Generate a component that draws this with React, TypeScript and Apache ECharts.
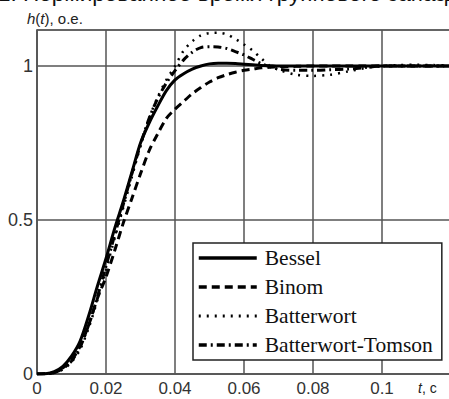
import React, { useEffect, useRef } from "react";
import * as echarts from "echarts";

const tValues = [
  0, 0.0025, 0.005, 0.0075, 0.01, 0.0125, 0.015, 0.0175, 0.02, 0.0225, 0.025, 0.0275,
  0.03, 0.0325, 0.035, 0.0375, 0.04, 0.0425, 0.045, 0.0475, 0.05, 0.0525, 0.055, 0.0575,
  0.06, 0.0625, 0.065, 0.0675, 0.07, 0.075, 0.08, 0.085, 0.09, 0.095, 0.1, 0.105, 0.11,
  0.115, 0.12,
];

const bessel = [
  0, 0.001, 0.008, 0.025, 0.058, 0.107, 0.19, 0.285, 0.375, 0.472, 0.56, 0.655,
  0.75, 0.815, 0.87, 0.92, 0.955, 0.975, 0.99, 1.0, 1.007, 1.009, 1.009, 1.008,
  1.006, 1.004, 1.002, 1.001, 1.0, 1.0, 1.0, 1.0, 1.0, 1.0, 1.0, 1.0, 1.0,
  1.0, 1.0,
];

const binom = [
  0, 0.0005, 0.005, 0.02, 0.045, 0.09, 0.16, 0.245, 0.315, 0.4, 0.49, 0.57,
  0.65, 0.725, 0.78, 0.83, 0.86, 0.885, 0.91, 0.93, 0.948, 0.962, 0.972, 0.98,
  0.986, 0.99, 0.994, 0.996, 0.998, 0.999, 1.0, 1.0, 1.0, 1.0, 1.0, 1.0, 1.0,
  1.0, 1.0,
];

const batterwort = [
  0, 0.0005, 0.004, 0.015, 0.038, 0.08, 0.15, 0.24, 0.34, 0.44, 0.54, 0.64,
  0.74, 0.83, 0.9, 0.955, 1.0, 1.05, 1.08, 1.1, 1.107, 1.108, 1.103, 1.088,
  1.07, 1.05, 1.025, 1.0, 0.988, 0.972, 0.968, 0.972, 0.982, 0.993, 1.0, 1.003, 1.004,
  1.003, 1.002,
];

const batterwortTomson = [
  0, 0.0005, 0.005, 0.018, 0.042, 0.088, 0.16, 0.25, 0.35, 0.45, 0.55, 0.65,
  0.745, 0.83, 0.895, 0.945, 0.985, 1.02, 1.045, 1.06, 1.063, 1.062, 1.057, 1.047,
  1.036, 1.022, 1.008, 0.998, 0.99, 0.986, 0.986, 0.988, 0.99, 0.995, 1.0, 1.0, 1.0,
  1.0, 1.0,
];

const seriesNames = ["Bessel", "Binom", "Batterwort", "Batterwort-Tomson"];
const xTicks = [0, 0.02, 0.04, 0.06, 0.08, 0.1];
const yTicks = [0, 0.5, 1];

const toPairs = (h: number[]) => tValues.map((t, i) => [t, h[i]]);

const styles: Record<string, { type: any; width: number }> = {
  Bessel: { type: "solid", width: 3 },
  Binom: { type: [8, 5], width: 3 },
  Batterwort: { type: [2, 6], width: 2.5 },
  "Batterwort-Tomson": { type: [8, 4, 2, 4], width: 3 },
};

export default function App() {
  const ref = useRef<HTMLDivElement>(null);
  useEffect(() => {
    if (!ref.current) return;
    const chart = echarts.init(ref.current, null, { renderer: "svg" });
    const gridColor = "#555";
    const fmtX = (v: number) => {
      const hit = xTicks.find((x) => Math.abs(x - v) < 1e-9);
      return hit === undefined ? "" : String(hit);
    };
    const fmtY = (v: number) => {
      const hit = yTicks.find((y) => Math.abs(y - v) < 1e-9);
      return hit === undefined ? "" : String(hit);
    };
    const lineSeries = (name: string, data: number[], z: number) => ({
      name,
      type: "line",
      data: toPairs(data),
      smooth: 0.3,
      symbol: "none",
      showSymbol: false,
      z,
      lineStyle: { color: "#000", width: styles[name].width, type: styles[name].type, cap: "butt" },
      itemStyle: { color: "#000" },
    });
    chart.setOption({
      animation: false,
      backgroundColor: "#fff",
      grid: {
        left: 37,
        right: -2,
        top: 30,
        bottom: 25,
        outerBoundsMode: "none",
        containLabel: false,
        show: true,
        borderColor: "#777",
        borderWidth: 1.5,
        backgroundColor: "transparent",
      },
      xAxis: {
        type: "value",
        min: 0,
        max: 0.12,
        interval: 0.02,
        axisLine: { show: true, lineStyle: { color: gridColor, width: 1.5 } },
        axisTick: { show: false },
        splitLine: { show: true, lineStyle: { color: gridColor, width: 1.5 } },
        axisLabel: {
          formatter: fmtX,
          showMaxLabel: false,
          margin: 6,
          fontSize: 17,
          fontFamily: "Liberation Sans, Arial, sans-serif",
          color: "#333",
        },
      },
      yAxis: {
        type: "value",
        min: 0,
        max: 1.117,
        interval: 0.5,
        axisLine: { show: true, lineStyle: { color: gridColor, width: 1.5 } },
        axisTick: { show: false },
        splitLine: { show: true, lineStyle: { color: gridColor, width: 1.5 } },
        axisLabel: {
          formatter: fmtY,
          showMaxLabel: false,
          margin: 4,
          fontSize: 18,
          fontFamily: "Liberation Sans, Arial, sans-serif",
          color: "#333",
        },
      },
      legend: {
        data: seriesNames.map((n) => ({
          name: n,
          lineStyle: { color: "#000", width: styles[n].width + 0.5, type: styles[n].type },
          itemStyle: { opacity: 0, color: "transparent", borderColor: "transparent" },
        })),
        orient: "vertical",
        left: 193,
        top: 243,
        itemWidth: 58,
        itemHeight: 14,
        itemGap: 7,
        padding: [4, 9, 4, 4],
        backgroundColor: "#fff",
        borderColor: "#222",
        borderWidth: 1.5,
        selectedMode: false,
        itemStyle: { opacity: 0, color: "transparent", borderColor: "transparent" },
        textStyle: {
          fontFamily: "Liberation Serif, Times New Roman, serif",
          fontSize: 21.5,
          color: "#111",
          padding: [0, 0, 0, 3],
        },
      },
      graphic: [
        {
          type: "text",
          left: -2,
          top: -18,
          style: {
            text: "1. Нормированное время группового запаздывания",
            fontSize: 22.5,
            fontFamily: "Liberation Sans, Arial, sans-serif",
            fill: "#111",
          },
        },
        {
          type: "text",
          left: 27,
          top: 11,
          style: {
            text: "{i|h}({i|t}), о.е.",
            fontSize: 15,
            fontFamily: "Liberation Sans, Arial, sans-serif",
            fill: "#222",
            rich: {
              i: {
                fontStyle: "italic",
                fontSize: 15,
                fontFamily: "Liberation Sans, Arial, sans-serif",
                fill: "#222",
              },
            },
          },
        },
        {
          type: "text",
          left: 418,
          top: 381,
          style: {
            text: "{i|t}, с",
            fontSize: 14,
            fontFamily: "Liberation Sans, Arial, sans-serif",
            fill: "#222",
            rich: {
              i: {
                fontStyle: "italic",
                fontSize: 14,
                fontFamily: "Liberation Sans, Arial, sans-serif",
                fill: "#222",
              },
            },
          },
        },
      ],
      series: [
        lineSeries("Batterwort", batterwort, 2),
        lineSeries("Batterwort-Tomson", batterwortTomson, 3),
        lineSeries("Binom", binom, 4),
        lineSeries("Bessel", bessel, 5),
      ],
    });
    return () => chart.dispose();
  }, []);
  return <div ref={ref} style={{ width: 449, height: 399, position: "absolute", left: 0, top: 0 }} />;
}
